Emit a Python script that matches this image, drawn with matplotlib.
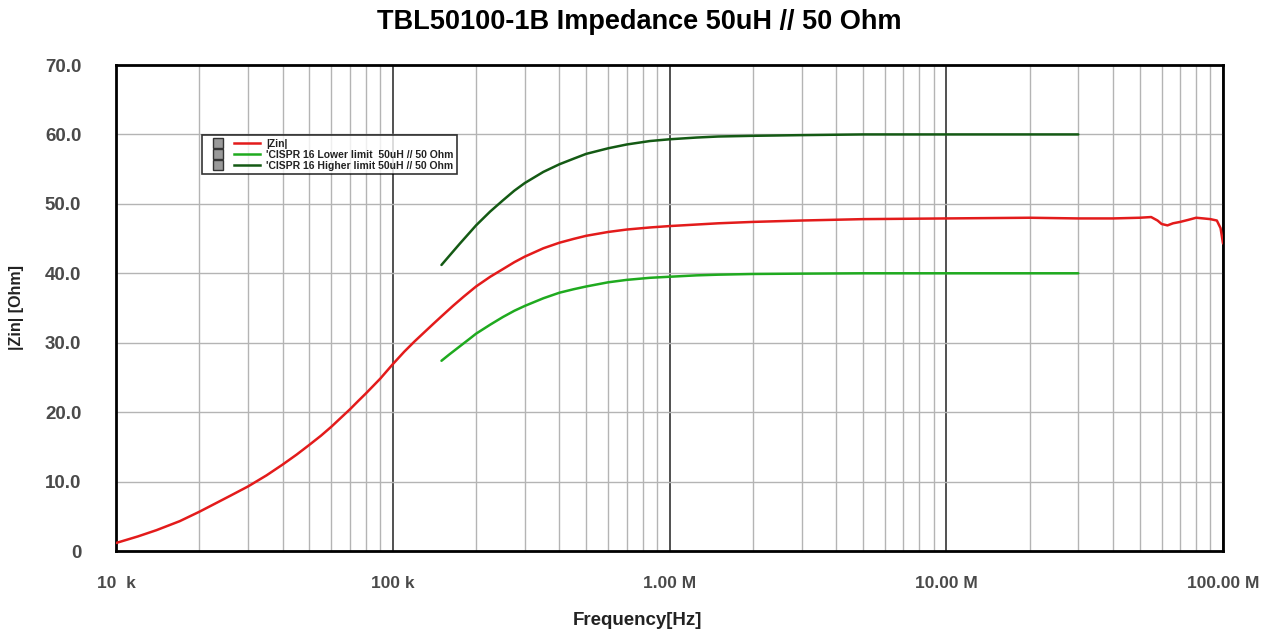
import matplotlib
matplotlib.use("Agg")
import matplotlib.pyplot as plt
from matplotlib.lines import Line2D
from matplotlib.legend_handler import HandlerTuple
from matplotlib.ticker import FixedLocator, NullFormatter, LogLocator

plt.rcParams['font.family'] = ['Liberation Sans', 'DejaVu Sans']

# ---- data ----
zin_freq = [10e3, 12e3, 14e3, 17e3, 20e3, 23e3, 26e3, 30e3, 35e3, 40e3, 45e3, 50e3,
            55e3, 60e3, 65e3, 70e3, 75e3, 80e3, 90e3, 100e3, 110e3, 120e3, 130e3,
            140e3, 150e3, 165e3, 180e3, 200e3, 225e3, 250e3, 275e3, 300e3, 350e3,
            400e3, 450e3, 500e3, 600e3, 700e3, 850e3, 1e6, 1.5e6, 2e6, 3e6, 5e6,
            10e6, 20e6, 30e6, 40e6, 50e6, 55e6, 58e6, 60e6, 63e6, 66e6, 70e6, 75e6,
            80e6, 85e6, 90e6, 95e6, 98e6, 100e6]
zin_vals = [1.15, 2.1, 3.0, 4.3, 5.65, 6.9, 8.0, 9.3, 10.9, 12.45, 13.9, 15.3,
            16.6, 17.9, 19.2, 20.4, 21.6, 22.7, 24.8, 26.9, 28.7, 30.2, 31.5,
            32.7, 33.8, 35.3, 36.6, 38.1, 39.5, 40.6, 41.6, 42.4, 43.6,
            44.4, 44.95, 45.4, 45.95, 46.3, 46.6, 46.8, 47.2, 47.4, 47.6, 47.8,
            47.9, 48.0, 47.9, 47.9, 48.0, 48.1, 47.6, 47.1, 46.9, 47.2, 47.4, 47.7,
            48.0, 47.9, 47.8, 47.6, 46.5, 44.3]

lim_freq = [150e3, 160e3, 175e3, 190e3, 200e3, 225e3, 250e3, 275e3, 300e3, 350e3,
            400e3, 450e3, 500e3, 600e3, 700e3, 850e3, 1e6, 1.25e6, 1.5e6, 2e6,
            3e6, 5e6, 10e6, 30e6]
lim_high = [41.2, 42.5, 44.3, 45.9, 46.9, 48.9, 50.5, 51.9, 53.0, 54.6,
            55.7, 56.5, 57.2, 58.0, 58.55, 59.05, 59.3, 59.55, 59.7, 59.8,
            59.9, 60.0, 60.0, 60.0]
lim_low = [27.4, 28.3, 29.5, 30.6, 31.3, 32.6, 33.7, 34.6, 35.3, 36.4,
           37.2, 37.7, 38.1, 38.7, 39.05, 39.35, 39.5, 39.7, 39.8, 39.9,
           39.95, 40.0, 40.0, 40.0]

x_ticks = [1e4, 1e5, 1e6, 1e7, 1e8]
x_tick_labels = ["10  k", "100 k", "1.00 M", "10.00 M", "100.00 M"]
y_ticks = [0, 10, 20, 30, 40, 50, 60, 70]
y_tick_labels = ["0", "10.0", "20.0", "30.0", "40.0", "50.0", "60.0", "70.0"]

series_labels = ["|Zin|", "'CISPR 16 Lower limit  50uH // 50 Ohm",
                 "'CISPR 16 Higher limit 50uH // 50 Ohm"]
c_red = "#e31b1b"
c_low = "#1faa1f"
c_high = "#145a14"

fig = plt.figure(figsize=(12.79, 6.32), dpi=100)
ax = fig.add_axes([116/1279, 1-551/632, (1223-116)/1279, (551-65)/632])

ax.set_xscale('log')
ax.set_xlim(1e4, 1e8)
ax.set_ylim(0, 70)

# grid
ax.xaxis.set_minor_locator(LogLocator(base=10, subs=range(2, 10)))
ax.xaxis.set_minor_formatter(NullFormatter())
ax.grid(which='minor', axis='x', color='#b4b4b4', linewidth=1.0)
ax.grid(which='major', axis='x', color='#333333', linewidth=1.2)
ax.grid(which='major', axis='y', color='#b4b4b4', linewidth=1.0)
ax.set_axisbelow(True)

kw = dict(lw=1.8, solid_joinstyle='round', solid_capstyle='round')
ax.plot(lim_freq, lim_high, color=c_high, zorder=3, **kw)
ax.plot(lim_freq, lim_low, color=c_low, zorder=3, **kw)
ax.plot(zin_freq, zin_vals, color=c_red, zorder=4, **kw)

ax.xaxis.set_major_locator(FixedLocator(x_ticks))
ax.set_xticklabels(x_tick_labels)
ax.set_yticks(y_ticks)
ax.set_yticklabels(y_tick_labels)
ax.tick_params(which='both', length=0)
ax.tick_params(axis='x', pad=18, labelsize=12.5, labelcolor='#4a4a4a')
ax.tick_params(axis='y', pad=25, labelsize=13.5, labelcolor='#4a4a4a')
for lab in ax.get_xticklabels() + ax.get_yticklabels():
    lab.set_fontweight('bold')

for sp in ax.spines.values():
    sp.set_linewidth(2)
    sp.set_color('black')

ax.set_xlabel("Frequency[Hz]", fontsize=13.5, fontweight='bold', color='#222222')
ax.xaxis.set_label_coords((637-116)/1107, -0.125)
ax.set_ylabel("|Zin| [Ohm]", fontsize=11.5, fontweight='bold', color='#222222')
ax.yaxis.set_label_coords(-(116-24)/1107, 0.5)
fig.text(0.5, 1-22/632, "TBL50100-1B Impedance 50uH // 50 Ohm", ha='center', va='center',
         fontsize=19.5, fontweight='bold', color='black')

# legend
sq = dict(marker='s', markersize=7, markerfacecolor='#9a9a9a', markeredgecolor='#333333',
          linestyle='none')
handles = [(Line2D([], [], **sq), Line2D([], [], color=c, lw=1.8))
           for c in (c_red, c_low, c_high)]
leg = ax.legend(handles, series_labels, handler_map={tuple: HandlerTuple(ndivide=None, pad=0.3)},
                loc='upper left', bbox_to_anchor=((202-116)/1107, (551-135)/486),
                fontsize=7.5, frameon=True, fancybox=False, handlelength=5.2,
                borderpad=0.35, labelspacing=0.1, handletextpad=0.6, borderaxespad=0)
leg.get_frame().set_edgecolor('black')
leg.get_frame().set_linewidth(1.2)
for t in leg.get_texts():
    t.set_fontweight('bold')
    t.set_color('#222222')

fig.savefig("out.png", dpi=100)
